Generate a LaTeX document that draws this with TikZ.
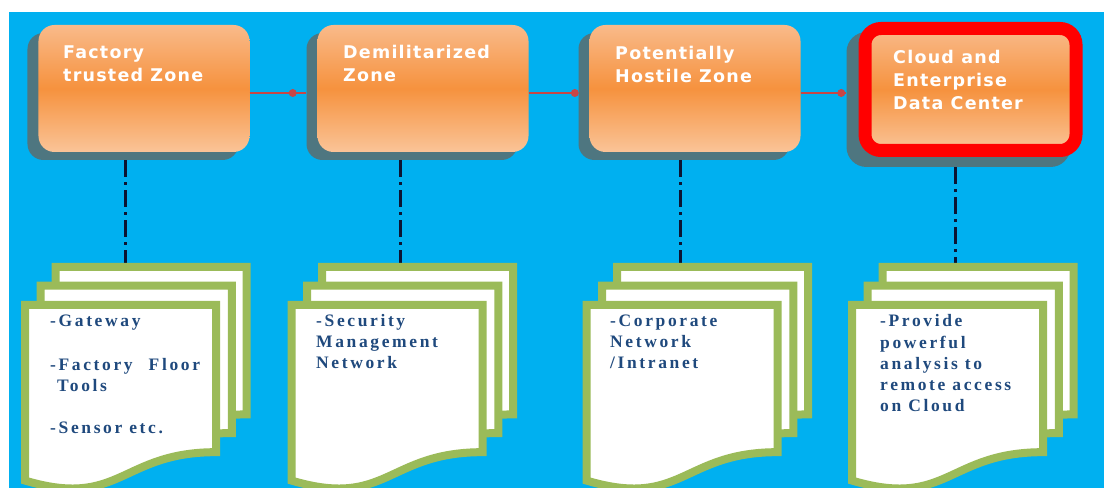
\documentclass[tikz,border=0pt]{standalone}
\usepackage{fontspec}
\setmainfont{Liberation Serif}
\newfontfamily\zonefont[LetterSpace=7]{DejaVu Sans}
\newfontfamily\notefont[LetterSpace=15]{Liberation Serif}
\usetikzlibrary{calc}

\definecolor{sky}{RGB}{0,176,240}
\definecolor{olive}{RGB}{155,187,89}
\definecolor{peachtop}{RGB}{249,186,138}
\definecolor{peachmid}{RGB}{246,146,62}
\definecolor{peachbot}{RGB}{250,196,152}
\definecolor{shade}{RGB}{78,118,128}
\definecolor{linkred}{RGB}{200,70,70}
\definecolor{navy}{RGB}{31,73,125}
\definecolor{ink}{RGB}{12,20,50}

% three stacked pages; #1 = left edge, #2 = top edge of the rear page
\newcommand\docstack[2]{%
  \foreach \dx/\dy in {30.55/0, 15.74/18.66, 0/37.76} {
    \draw[page, shift={(#1+\dx,#2+\dy)}]
      (0,0) -- (191.1,0) -- (191.1,147.4)
      .. controls (95.6,147.4) and (95.6,204.2) .. (0,175.8) -- cycle;
  }%
}

\begin{document}
\begin{tikzpicture}[x=1bp,y=-1bp,
  zone/.style={rounded corners=16bp, minimum width=211bp, minimum height=127bp,
    inner sep=0pt, top color=peachtop, bottom color=peachbot, middle color=peachmid},
  zoneshadow/.style={fill=shade, rounded corners=16bp, minimum width=211bp,
    minimum height=127bp, inner sep=0pt},
  alertzone/.style={zone, minimum height=122bp, draw=red, line width=13bp},
  % multi-line labels are placed by the baseline of their last line
  zonetext/.style={text=white, font=\zonefont\bfseries\fontsize{17.5bp}{23bp}\selectfont,
    align=left, anchor=base west, inner sep=0pt},
  notetext/.style={text=navy, font=\notefont\bfseries\fontsize{17.5bp}{21bp}\selectfont,
    align=left, anchor=base west, inner sep=0pt},
  link/.style={draw=linkred, line width=2.2bp},
  linkdot/.style={circle, fill=linkred, minimum size=8bp, inner sep=0pt},
  tie/.style={draw=ink, line width=3bp, dash pattern=on 17bp off 5bp on 3bp off 5bp},
  page/.style={fill=white, draw=olive, line width=8bp, line join=miter}]

\useasboundingbox (0,0) rectangle (1104,488);
\fill[white] (0,0) rectangle (1104,488);
\fill[sky] (9,12) rectangle (1104,488);

% drop shadows behind the zone boxes
\node[zoneshadow] (s1) at (133,96.5) {};
\node[zoneshadow] (s2) at (412,96.5) {};
\node[zoneshadow] (s3) at (684,96.5) {};
\node[zoneshadow, minimum width=224bp, minimum height=135bp, rounded corners=20bp] (s4) at (958.5,99.5) {};

% zone boxes
\node[zone] (b1) at (144,88.5) {};
\node[zone] (b2) at (423,88.5) {};
\node[zone] (b3) at (695,88.5) {};
\node[alertzone] (b4) at (970.5,89.5) {};

\node[zonetext] (t1) at (63,82) {Factory\\trusted Zone};
\node[zonetext] (t2) at (343,82) {Demilitarized\\Zone};
\node[zonetext] (t3) at (615,83) {Potentially\\Hostile Zone};
\node[zonetext] (t4) at (893,110) {Cloud and\\Enterprise\\Data Center};

% links between zones
\coordinate (row) at (0,93);
\draw[link] (b1.east |- row) -- (s2.west |- row) node[linkdot, pos=0.76] (d1) {};
\draw[link] (b2.east |- row) -- (s3.west |- row) node[linkdot, pos=0.93] (d2) {};
\draw[link] (b3.east |- row) -- (s4.west |- row) node[linkdot, pos=0.89] (d3) {};

% dash-dot ties down to the page stacks
\coordinate (top1) at (125,263);
\coordinate (top2) at (400,263);
\coordinate (top3) at (680,263);
\coordinate (top4) at (955,263);
\draw[tie] (s1.south -| top1) -- (top1);
\draw[tie] (s2.south -| top2) -- (top2);
\draw[tie] (s3.south -| top3) -- (top3);
\draw[tie] (s4.south -| top4) -- (top4);

% page stacks
\docstack{25}{267}
\docstack{291.5}{267}
\docstack{586.5}{267}
\docstack{852}{267}

\node[notetext] (n1) at (50,433) {-Gateway\\[22bp]-Factory\hspace*{16bp}Floor\\\hspace*{7bp}Tools\\[21bp]-Sensor etc.};
\node[notetext] (n2) at (316,369) {-Security\\Management\\Network};
\node[notetext] (n3) at (610,369) {-Corporate\\Network\\/Intranet};
\node[notetext] (n4) at (880,411) {-Provide\\powerful\\analysis to\\remote access\\on Cloud};
\end{tikzpicture}
\end{document}
